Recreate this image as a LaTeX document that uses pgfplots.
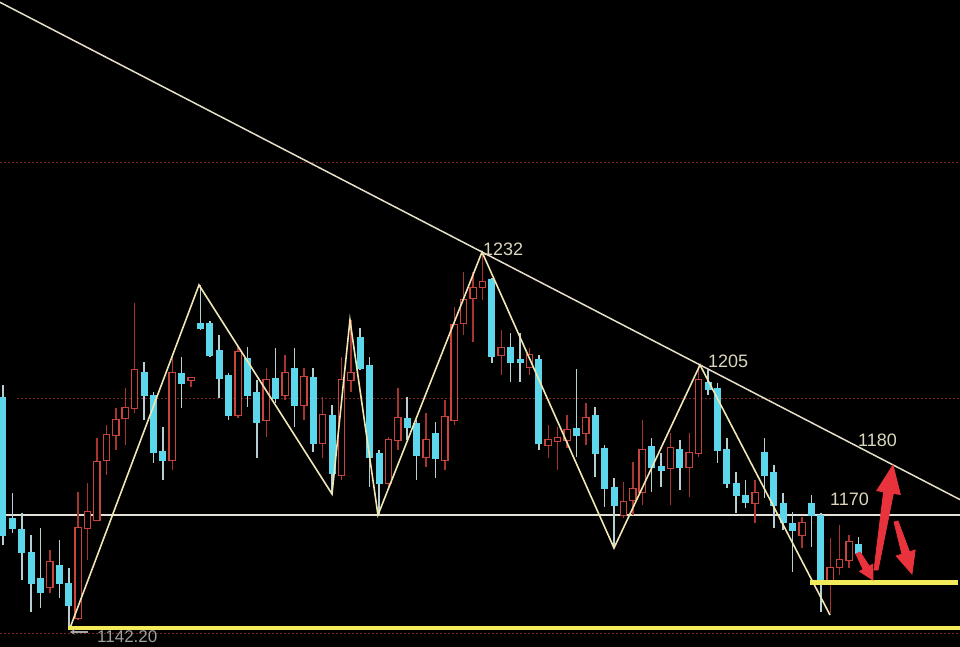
\documentclass[border=0pt]{standalone}
\usepackage{pgfplots}
\usepackage{pgfplotstable}
\pgfplotsset{compat=1.18}
\usepackage{fontspec}
\setmainfont{Liberation Sans}
\usetikzlibrary{arrows.meta}
\definecolor{cbody}{HTML}{5CD6EA}
\definecolor{cwick}{HTML}{B4CED2}
\definecolor{rbody}{HTML}{C8453E}
\definecolor{rwick}{HTML}{A83430}
\definecolor{zig}{HTML}{F0E6B4}
\definecolor{trend}{HTML}{E6DEC8}
\definecolor{hline}{HTML}{E4E2D8}
\definecolor{yel}{HTML}{F2EC5A}
\definecolor{dotred}{HTML}{7A2424}
\definecolor{labc}{HTML}{DCD6BC}
\definecolor{arr}{HTML}{E8323C}

% candle data: i = bar index, hi/lo = wick ends, top/bot = body ends (screen rows, 0 at top)
\pgfplotstableread{
i hi lo top bot
0 385 545 397 535
1 493 533 518 528
2 513 580 529 552
3 535 612 552 583
4 528 608 578 592
6 540 598 565 583
7 568 628 583 605
15 362 420 372 395
16 392 463 395 452
17 427 480 451 460
19 357 408 373 383
21 285 330 323 328
22 321 357 323 355
23 335 398 350 378
24 373 420 375 415
26 347 407 358 395
27 380 458 392 422
29 348 403 378 398
31 348 427 368 405
33 368 452 377 443
35 405 494 415 473
38 328 370 337 368
39 357 487 365 457
40 450 515 453 483
43 397 440 418 427
44 420 480 423 455
46 422 478 433 458
52 278 363 279 356
54 333 382 347 362
55 333 382 359 362
57 355 450 359 443
61 369 457 428 435
63 407 477 415 453
64 445 507 448 488
65 478 548 487 505
69 438 492 446 467
70 453 487 466 470
72 440 490 449 467
75 370 395 382 389
76 383 463 388 450
77 438 488 449 483
78 472 513 483 495
79 480 508 495 502
81 438 498 452 475
82 465 528 472 505
83 493 530 503 522
84 512 572 523 530
86 495 547 503 515
87 513 612 515 583
91 537 557 544 553
}\cyandata

\pgfplotstableread{
i hi lo top bot
5 550 593 562 587
8 492 620 528 618
9 483 560 512 528
10 438 520 462 520
11 425 475 435 460
12 408 450 420 435
13 388 445 408 418
14 303 413 370 408
18 353 470 373 460
20 377 387 378 380
25 347 418 352 415
28 368 437 380 420
30 355 400 373 395
32 368 420 377 405
34 397 458 415 443
36 357 480 380 475
37 320 392 373 380
41 437 490 440 483
42 388 450 418 440
45 413 467 440 457
47 400 470 417 460
48 307 425 325 420
49 272 335 300 323
50 272 342 288 298
51 253 300 282 287
53 330 375 348 355
56 348 375 355 367
58 425 458 440 445
59 427 470 438 441
60 415 448 430 440
62 403 445 418 433
66 482 518 502 515
67 462 515 489 500
68 420 505 450 492
71 433 505 448 468
73 433 497 453 467
74 365 457 380 453
80 480 523 493 503
85 517 548 523 535
88 538 613 568 583
89 525 575 560 567
90 535 568 542 560
}\reddata

\begin{document}
\begin{tikzpicture}
\begin{axis}[
  scale only axis, width=960pt, height=647pt,
  xmin=-0.319, xmax=101.809, ymin=0, ymax=647, y dir=reverse,
  axis background/.style={fill=black},
  axis line style={draw=none}, ticks=none,
  clip=true,
]
% dotted reference lines
\addplot[dotred, line width=1pt, dash pattern=on 2pt off 2pt] coordinates {(-0.319,163) (101.809,163)};
\addplot[dotred, line width=1pt, dash pattern=on 2pt off 2pt] coordinates {(1.5,398) (101.809,398)};
\addplot[dotred, line width=1pt, dash pattern=on 2pt off 2pt] coordinates {(-0.319,633) (101.809,633)};
% support line 1170
\addplot[hline, line width=1.6pt] coordinates {(-0.319,515) (101.809,515)};

% wicks
\addplot[cwick, line width=1.5pt, quiver={u=0, v=\thisrow{lo}-\thisrow{hi}}] table[x=i, y=hi] {\cyandata};
\addplot[rwick, line width=1.4pt, quiver={u=0, v=\thisrow{lo}-\thisrow{hi}}] table[x=i, y=hi] {\reddata};
% bodies
\addplot[cbody, line width=7pt, quiver={u=0, v=\thisrow{bot}-\thisrow{top}+1}] table[x=i, y=top] {\cyandata};
\addplot[rbody, line width=7.5pt, quiver={u=0, v=\thisrow{bot}-\thisrow{top}+2}] table[x=i, y expr=\thisrow{top}-1] {\reddata};
\addplot[black, line width=5pt, quiver={u=0, v=\thisrow{bot}-\thisrow{top}}] table[x=i, y=top] {\reddata};

% wave lines
\addplot[zig, line width=1.6pt] coordinates {
 (7.128,628) (20.85,285) (35.0,494) (36.91,320) (39.89,515) (50.96,252) (65.0,548) (74.15,365) (87.98,615)};
% descending trend line
\addplot[trend, line width=1.5pt] coordinates {(-0.319,2.3) (101.809,499.6)};
% yellow supports
\addplot[yel, line width=4pt] coordinates {(6.915,628) (101.809,628)};
\addplot[yel, line width=5pt] coordinates {(85.85,582) (101.6,582)};

% red arrows
\addplot[arr, fill=arr, draw=arr, line width=0.8pt] coordinates {
 (92.66,570) (93.09,570) (94.72,493.4) (95.46,494.5) (94.68,465) (92.95,490.7) (93.68,491.8) (92.66,570)} --cycle;
\addplot[arr, fill=arr, draw=arr, line width=0.8pt] coordinates {
 (94.79,522) (95.21,521) (96.44,551.8) (97.04,550) (96.70,574) (95.02,556) (95.63,554.2) (94.79,522)} --cycle;
\addplot[arr, fill=arr, draw=arr, line width=0.8pt] coordinates {
 (90.74,554) (91.17,552) (92.16,566.1) (92.53,564.2) (92.55,580) (91.13,571.4) (91.50,569.5) (90.74,554)} --cycle;

% small grey pointer at the low
\addplot[gray!70, line width=1.2pt, -{Stealth[length=5pt,width=5pt]}] coordinates {(9.0,632) (7.1,632)};

% labels
\node[anchor=base west, inner sep=0, text=labc, font=\fontsize{18}{20}\selectfont] at (axis cs:51.06,255) {1232};
\node[anchor=base west, inner sep=0, text=labc, font=\fontsize{18}{20}\selectfont] at (axis cs:75.0,367) {1205};
\node[anchor=base west, inner sep=0, text=labc, font=\fontsize{18}{20}\selectfont] at (axis cs:90.96,446) {1180};
\node[anchor=base west, inner sep=0, text=labc, font=\fontsize{18}{20}\selectfont] at (axis cs:87.98,505) {1170};
\node[anchor=base west, inner sep=0, text=gray!75, font=\fontsize{17}{20}\selectfont] at (axis cs:10.0,642) {1142.20};
\end{axis}
\end{tikzpicture}
\end{document}
